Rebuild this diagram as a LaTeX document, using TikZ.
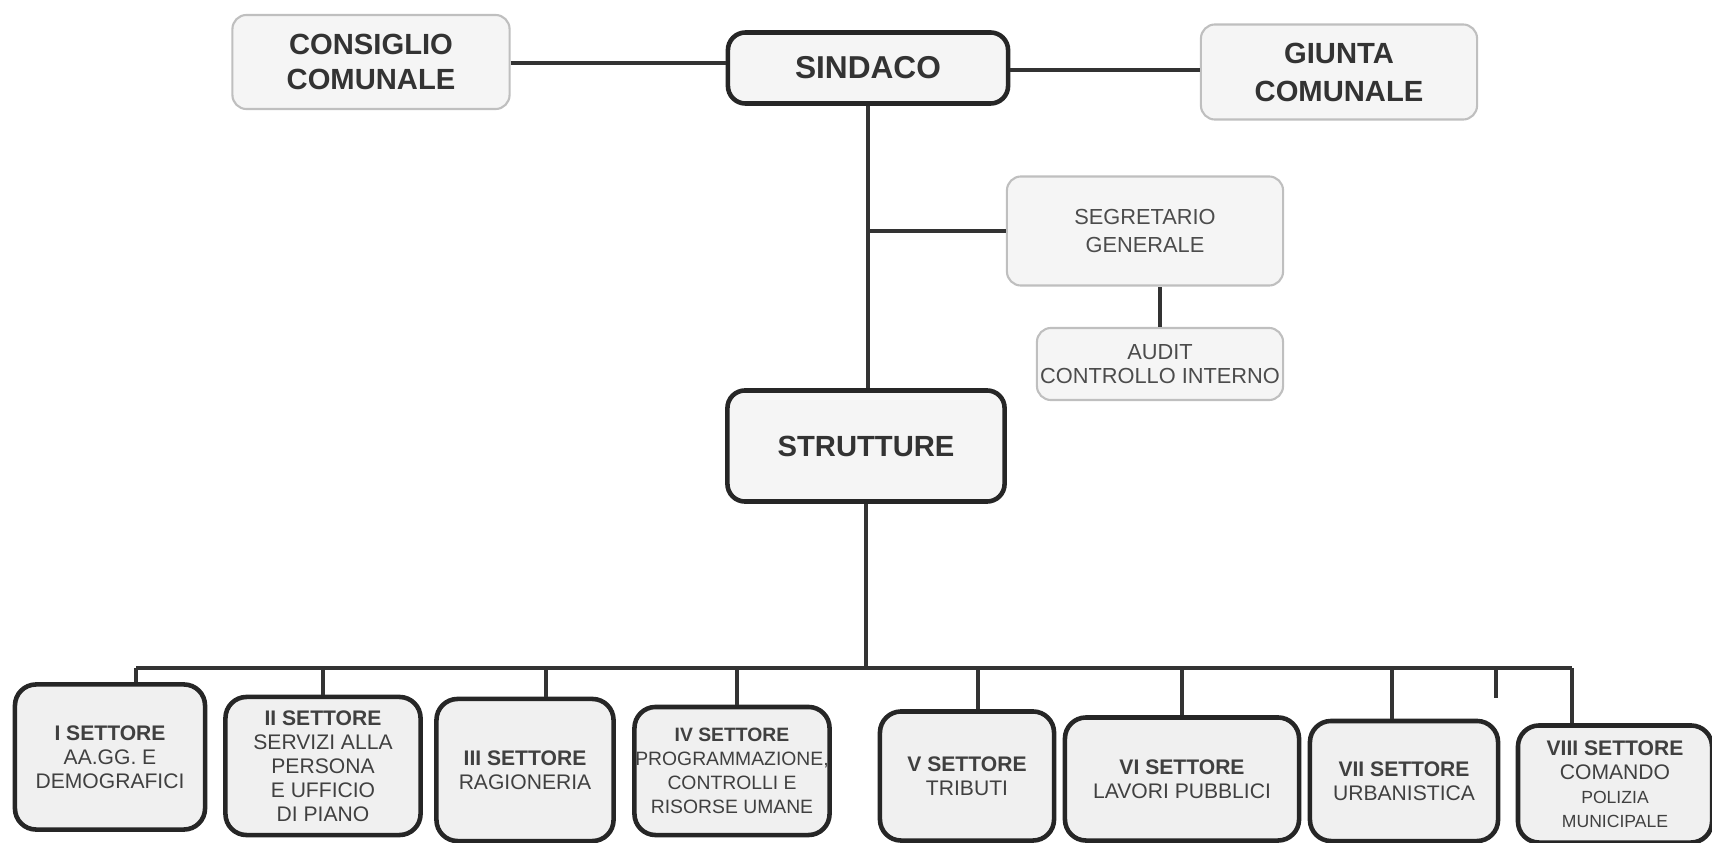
\documentclass[tikz,border=0pt]{standalone}
\usepackage{fontspec}
\setmainfont{Liberation Sans}
\usepackage{tikz}

\begin{document}
\begin{tikzpicture}[x=0.01cm,y=-0.01cm,
    thinbox/.style={draw=black!25,line width=0.6pt,fill=black!4,rounded corners=4pt,
      align=center,inner sep=0pt,text=black!70},
    thickbox/.style={draw=black!85,line width=1.3pt,fill=black!4,rounded corners=5pt,
      align=center,inner sep=0pt,text=black!80,font=\bfseries\fontsize{8.3}{10.5}\selectfont},
    setbox/.style={draw=black!85,line width=1.3pt,fill=black!6,rounded corners=6pt,
      align=center,inner sep=0pt,text=black!75,font=\fontsize{6}{6.8}\selectfont},
    link/.style={draw=black!80,line width=1.2pt}]
    \useasboundingbox (0,0) rectangle (1712,843);

    % Top row
    \node[thinbox,minimum width=2.77cm,minimum height=0.94cm,
      font=\bfseries\fontsize{8.3}{10}\selectfont,text=black!80] (cons) at (371,62) {CONSIGLIO\\COMUNALE};
    \node[thickbox,minimum width=2.80cm,minimum height=0.71cm,
      font=\bfseries\fontsize{9}{10}\selectfont] (sind) at (868,68) {SINDACO};
    \node[thinbox,minimum width=2.76cm,minimum height=0.95cm,
      font=\bfseries\fontsize{8.3}{10.8}\selectfont,text=black!80] (giun) at (1339,72) {GIUNTA\\COMUNALE};
    \draw[link] (cons.east |- 0,63) -- (sind.west |- 0,63);
    \draw[link] (sind.east |- 0,70) -- (giun.west |- 0,70);

    % Staff
    \node[thinbox,minimum width=2.76cm,minimum height=1.09cm,
      font=\fontsize{6.2}{8}\selectfont] (segr) at (1145,231) {SEGRETARIO\\GENERALE};
    \node[thinbox,minimum width=2.46cm,minimum height=0.72cm,
      font=\fontsize{6.2}{6.9}\selectfont] (audit) at (1160,364) {AUDIT\\CONTROLLO INTERNO};

    \node[thickbox,minimum width=2.77cm,minimum height=1.11cm] (strut) at (866,446) {STRUTTURE};

    \draw[link] (sind.south) -- (sind.south |- strut.north);
    \draw[link] (segr.west) -- (segr.west -| sind.south);
    \draw[link] (audit.north) -- (audit.north |- segr.south);

    % Sectors
    \node[setbox,minimum width=1.90cm,minimum height=1.45cm] (s1) at (110,757)
      {\textbf{I SETTORE}\\AA.GG. E\\DEMOGRAFICI};
    \node[setbox,minimum width=1.95cm,minimum height=1.38cm] (s2) at (323,766)
      {\textbf{II SETTORE}\\SERVIZI ALLA\\PERSONA\\E UFFICIO\\DI PIANO};
    \node[setbox,minimum width=1.77cm,minimum height=1.42cm] (s3) at (525,770)
      {\textbf{III SETTORE}\\RAGIONERIA};
    \node[setbox,minimum width=1.95cm,minimum height=1.28cm,
      font=\fontsize{5.5}{6.8}\selectfont] (s4) at (732,771)
      {\textbf{IV SETTORE}\\PROGRAMMAZIONE,\\CONTROLLI E\\RISORSE UMANE};
    \node[setbox,minimum width=1.74cm,minimum height=1.29cm] (s5) at (967,776)
      {\textbf{V SETTORE}\\TRIBUTI};
    \node[setbox,minimum width=2.34cm,minimum height=1.23cm] (s6) at (1182,779)
      {\textbf{VI SETTORE}\\LAVORI PUBBLICI};
    \node[setbox,minimum width=1.88cm,minimum height=1.20cm] (s7) at (1404,781)
      {\textbf{VII SETTORE}\\URBANISTICA};
    \node[setbox,minimum width=1.94cm,minimum height=1.17cm] (s8) at (1615,784)
      {\textbf{VIII SETTORE}\\COMANDO\\{\fontsize{5}{6.8}\selectfont POLIZIA}\\{\fontsize{5}{6.8}\selectfont MUNICIPALE}};

    % Bus to sectors
    \foreach \i/\x in {1/136,2/323,3/546,4/737,5/978,6/1182,7/1392,8/1572} {
        \coordinate (b\i) at (\x,668);
    }
    \coordinate (stub) at (1496,668);
    \draw[link] (strut.south) -- (strut.south |- b1);
    \draw[link] (b1) -- (b8);
    \foreach \i in {1,...,8} {
        \draw[link] (b\i) -- (b\i |- s\i.north);
    }
    \draw[link] (stub) -- ++(0,30);
\end{tikzpicture}
\end{document}
